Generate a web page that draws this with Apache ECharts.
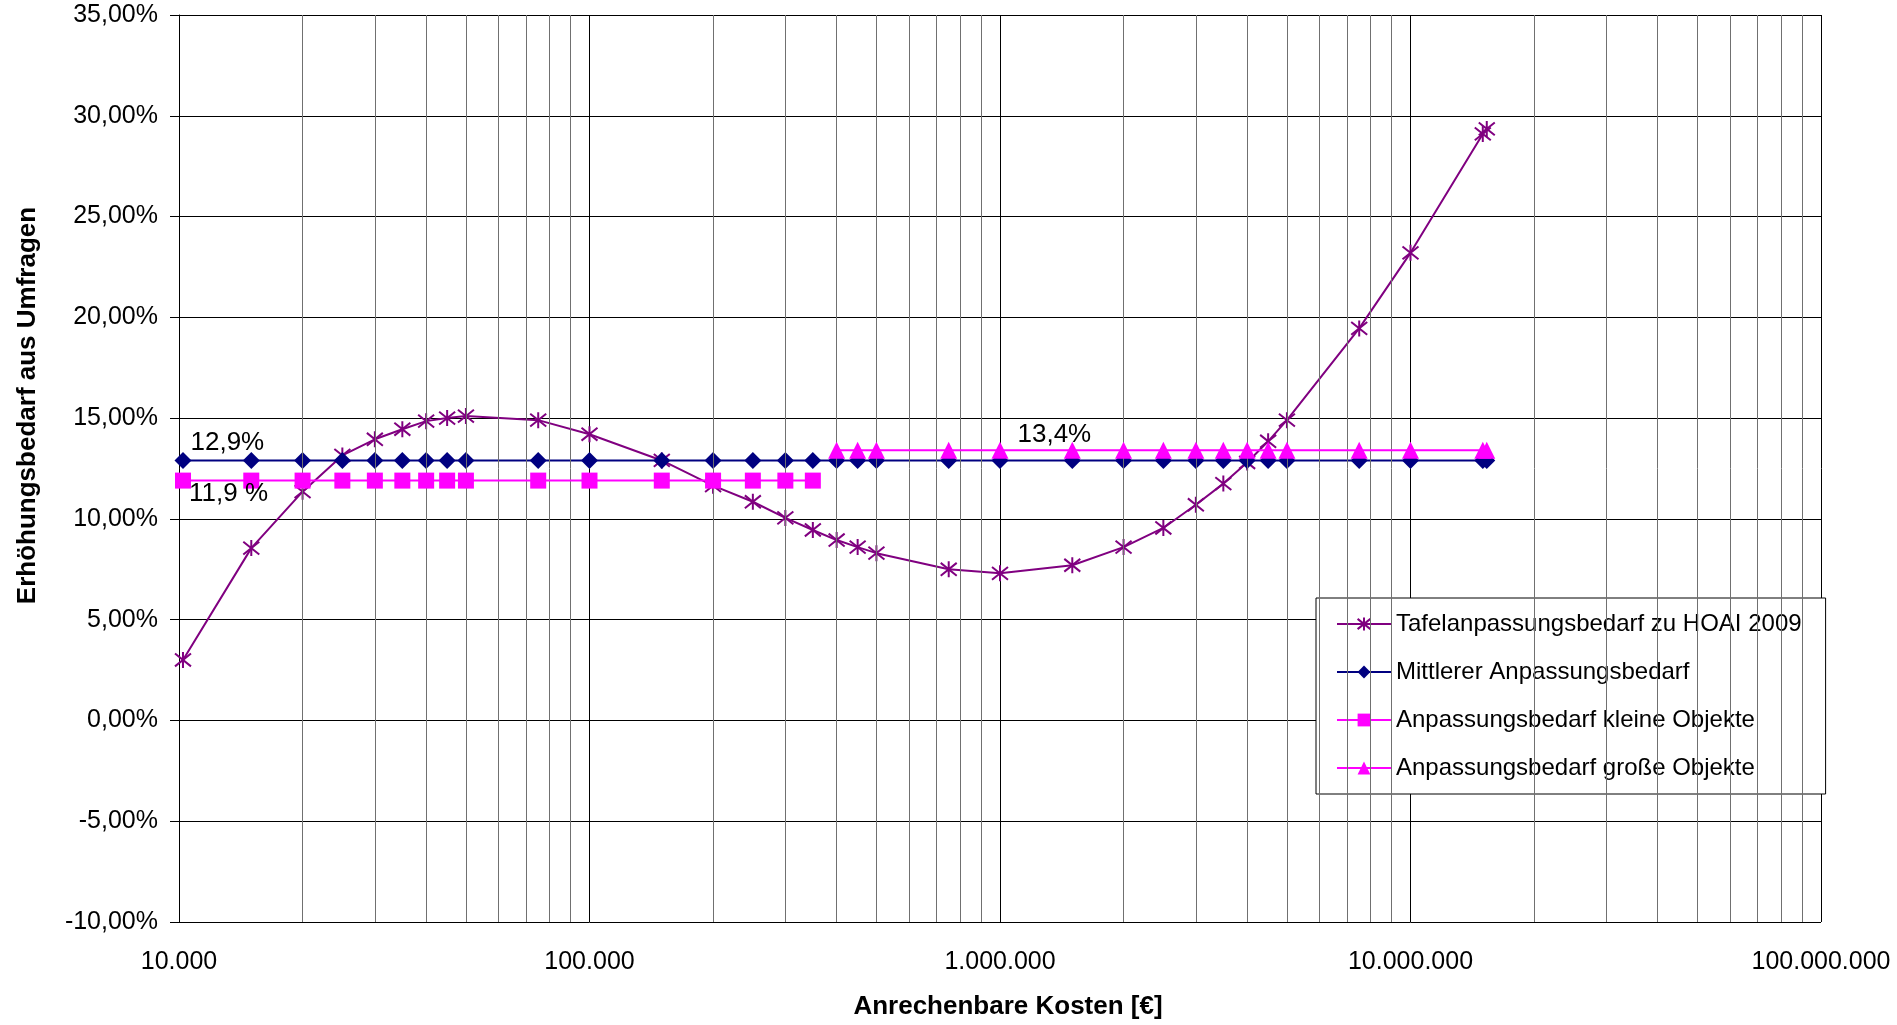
<!DOCTYPE html>
<html>
<head>
<meta charset="utf-8">
<script src="https://cdn.jsdelivr.net/npm/echarts@6/dist/echarts.min.js"></script>
<style>
html,body{margin:0;padding:0;background:#fff;}
#chart{width:1897px;height:1025px;}
</style>
</head>
<body>
<div id="chart"></div>
<script>
// ---- data ----
var costs = [10226, 15000, 20000, 25000, 30000, 35000, 40000, 45000, 50000, 75000, 100000,
  150000, 200000, 250000, 300000, 350000, 400000, 450000, 500000, 750000, 1000000,
  1500000, 2000000, 2500000, 3000000, 3500000, 4000000, 4500000, 5000000, 7500000,
  10000000, 15000000, 15338756];
var tafelValues = [3.0, 8.55, 11.35, 13.15, 13.95, 14.45, 14.85, 15.0, 15.1, 14.9, 14.2,
  12.9, 11.65, 10.85, 10.05, 9.45, 8.95, 8.6, 8.3, 7.5, 7.3,
  7.7, 8.6, 9.55, 10.7, 11.75, 12.8, 13.85, 14.9, 19.45,
  23.2, 29.1, 29.35];
var mittlererValue = 12.9;
var kleinCosts = [10226, 15000, 20000, 25000, 30000, 35000, 40000, 45000, 50000, 75000, 100000,
  150000, 200000, 250000, 300000, 350000];
var kleinValue = 11.9;
var grossCosts = [400000, 450000, 500000, 750000, 1000000, 1500000, 2000000, 2500000, 3000000,
  3500000, 4000000, 4500000, 5000000, 7500000, 10000000, 15000000, 15338756];
var grossValue = 13.4;
var seriesNames = ['Tafelanpassungsbedarf zu HOAI 2009', 'Mittlerer Anpassungsbedarf',
  'Anpassungsbedarf kleine Objekte', 'Anpassungsbedarf große Objekte'];
var xTitle = 'Anrechenbare Kosten [€]';
var yTitle = 'Erhöhungsbedarf aus Umfragen';
var labelMittlerer = '12,9%';
var labelKlein = '11,9 %';
var labelGross = '13,4%';
var minorMultipliers = [2, 3, 4, 5, 6, 7, 8, 9];
var decades = [10000, 100000, 1000000, 10000000];

// ---- build ----
var FONT = "'Liberation Sans', Arial, sans-serif";
var minorLines = [];
decades.forEach(function (d) { minorMultipliers.forEach(function (m) { minorLines.push({ xAxis: d * m }); }); });

var tafelData = costs.map(function (c, i) { return [c, tafelValues[i]]; });
var mittData = costs.map(function (c) { return [c, mittlererValue]; });
var kleinData = kleinCosts.map(function (c) { return [c, kleinValue]; });
var grossData = grossCosts.map(function (c) { return [c, grossValue]; });

var annoStyle = { show: true, position: 'right', distance: 0, fontSize: 26, color: '#000', fontFamily: FONT };
mittData[0] = { value: mittData[0], label: Object.assign({}, annoStyle, { formatter: labelMittlerer, offset: [-1, -18] }) };
kleinData[0] = { value: kleinData[0], label: Object.assign({}, annoStyle, { formatter: labelKlein, offset: [-2, 13] }) };
grossData[4] = { value: grossData[4], label: Object.assign({}, annoStyle, { formatter: labelGross, offset: [9, -16] }) };

var asterisk = 'path://M1,1L9,9M9,1L1,9M5,0L5,10';

var chart = echarts.init(document.getElementById('chart'), null, { renderer: 'canvas' });
chart.setOption({
  animation: false,
  backgroundColor: '#fff',
  textStyle: { fontFamily: FONT },
  grid: { left: 179, right: 76, top: 15, bottom: 101, containLabel: false },
  legend: {
    data: seriesNames,
    orient: 'vertical',
    left: 1316, top: 598,
    padding: [13, 24, 13, 20],
    itemGap: 22,
    itemWidth: 54, itemHeight: 16,
    backgroundColor: '#fff',
    borderColor: '#000', borderWidth: 1,
    textStyle: { fontSize: 24, color: '#000', fontFamily: FONT, lineHeight: 26 }
  },
  xAxis: {
    type: 'log', logBase: 10, min: 10000, max: 100000000,
    name: xTitle, nameLocation: 'middle', nameGap: 72,
    nameTextStyle: { fontSize: 26, fontWeight: 'bold', color: '#000', fontFamily: FONT, padding: [0, 0, 0, 16] },
    axisLine: { show: true, lineStyle: { color: '#000', width: 1 } },
    axisTick: { show: true, inside: false, length: 10, lineStyle: { color: '#000' } },
    axisLabel: {
      fontSize: 25, color: '#000', margin: 28, fontFamily: FONT,
      formatter: function (v) { return Math.round(v).toString().replace(/\B(?=(\d{3})+(?!\d))/g, '.'); }
    },
    splitLine: { show: true, lineStyle: { color: '#000', width: 1 } },
    minorTick: { show: false }, minorSplitLine: { show: false }
  },
  yAxis: {
    type: 'value', min: -10, max: 35, interval: 5,
    name: yTitle, nameLocation: 'middle', nameGap: 138,
    nameTextStyle: { fontSize: 26, fontWeight: 'bold', color: '#000', fontFamily: FONT, padding: [0, 0, 0, 126] },
    axisLine: { show: true, lineStyle: { color: '#000', width: 1 } },
    axisTick: { show: true, inside: false, length: 9, lineStyle: { color: '#000' } },
    axisLabel: {
      fontSize: 25, color: '#000', margin: 21, fontFamily: FONT,
      formatter: function (v) { return v.toFixed(2).replace('.', ',') + '%'; }
    },
    splitLine: { show: true, lineStyle: { color: '#000', width: 1 } }
  },
  series: [
    {
      name: 'minorGrid', type: 'line', data: [], z: 1, silent: true,
      markLine: {
        silent: true, symbol: ['none', 'none'], label: { show: false },
        lineStyle: { color: '#707070', width: 1, type: 'solid' },
        emphasis: { disabled: true },
        animation: false,
        data: minorLines
      }
    },
    {
      name: seriesNames[0], type: 'line', data: tafelData, z: 3,
      symbol: asterisk, symbolSize: 16,
      lineStyle: { color: '#800080', width: 2 },
      itemStyle: { color: '#800080', borderColor: '#800080', borderWidth: 2 }
    },
    {
      name: seriesNames[1], type: 'line', data: mittData, z: 4,
      symbol: 'diamond', symbolSize: 17,
      lineStyle: { color: '#000080', width: 2 },
      itemStyle: { color: '#000080', borderWidth: 0 }
    },
    {
      name: seriesNames[2], type: 'line', data: kleinData, z: 5,
      symbol: 'rect', symbolSize: 16,
      lineStyle: { color: '#FF00FF', width: 2 },
      itemStyle: { color: '#FF00FF', borderWidth: 0 }
    },
    {
      name: seriesNames[3], type: 'line', data: grossData, z: 5,
      symbol: 'triangle', symbolSize: 17,
      lineStyle: { color: '#FF00FF', width: 2 },
      itemStyle: { color: '#FF00FF', borderWidth: 0 }
    }
  ]
});
</script>
</body>
</html>
